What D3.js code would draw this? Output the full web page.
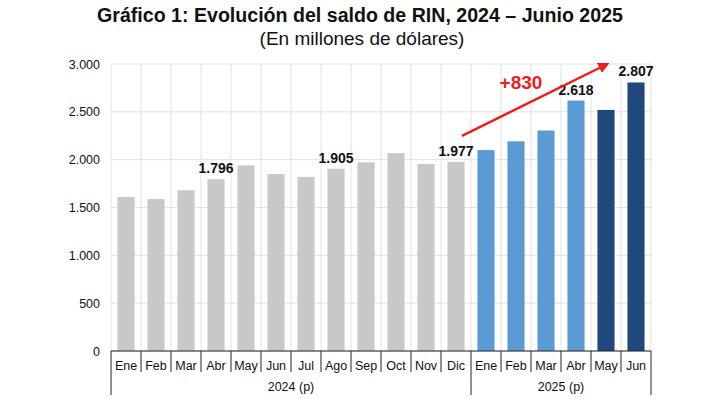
<!DOCTYPE html>
<html>
<head>
<meta charset="utf-8">
<script src="https://cdn.jsdelivr.net/npm/d3@7"></script>
<style>
  body { margin: 0; background: #fff; }
  text { font-family: "Liberation Sans", Arial, sans-serif; }
</style>
</head>
<body>
<div id="chart"></div>
<script>
// data
const months = ['Ene', 'Feb', 'Mar', 'Abr', 'May', 'Jun', 'Jul', 'Ago', 'Sep', 'Oct', 'Nov', 'Dic',
  'Ene', 'Feb', 'Mar', 'Abr', 'May', 'Jun'];
const years = ['2024 (p)', '2025 (p)'];
const yearOf = [0, 0, 0, 0, 0, 0, 0, 0, 0, 0, 0, 0, 1, 1, 1, 1, 1, 1];
const values = [1610, 1588, 1680, 1796, 1940, 1850, 1820, 1905, 1972, 2068, 1955, 1977,
  2100, 2192, 2305, 2618, 2520, 2807];
const shownLabels = [3, 7, 11, 15, 17];
const yTicks = [0, 500, 1000, 1500, 2000, 2500, 3000];
const arrowFrom = 11; // Dic 2024
const arrowTo = 17;   // Jun 2025
const arrowText = '+830';

const outerWidth = 720;
const outerHeight = 399;
const margin = { top: 64, right: 69, bottom: 48, left: 111 };
const width = outerWidth - margin.left - margin.right;
const height = outerHeight - margin.top - margin.bottom;

const svg = d3.select('#chart')
  .append('svg')
  .attr('width', outerWidth)
  .attr('height', outerHeight);

// titles
svg.append('text')
  .attr('x', 360).attr('y', 22)
  .attr('text-anchor', 'middle')
  .attr('font-size', 19.6).attr('font-weight', 'bold').attr('fill', '#111')
  .text('Gráfico 1: Evolución del saldo de RIN, 2024 – Junio 2025');
svg.append('text')
  .attr('x', 362).attr('y', 45)
  .attr('text-anchor', 'middle')
  .attr('font-size', 19).attr('fill', '#111')
  .text('(En millones de dólares)');

const g = svg.append('g').attr('transform', `translate(${margin.left},${margin.top})`);

const idx = d3.range(months.length);
const x = d3.scaleBand().domain(idx).range([0, width]).paddingInner(0.43).paddingOuter(0.215);
const step = width / months.length;
const y = d3.scaleLinear().domain([0, 3000]).range([height, 0]);

const colorOf = i => (i < 12 ? '#c8c8c8' : i < 16 ? '#5b9bd5' : '#1f497d');

// gridlines
g.append('g')
  .selectAll('line.h')
  .data(yTicks)
  .join('line')
  .attr('x1', 0).attr('x2', width)
  .attr('y1', d => y(d)).attr('y2', d => y(d))
  .attr('stroke', '#e2e2e2').attr('stroke-width', 1);
g.append('g')
  .selectAll('line.v')
  .data(d3.range(months.length + 1))
  .join('line')
  .attr('x1', d => d * step).attr('x2', d => d * step)
  .attr('y1', 0).attr('y2', height)
  .attr('stroke', '#e2e2e2').attr('stroke-width', 1);

// y axis labels
const yAxis = d3.axisLeft(y).tickValues(yTicks).tickSize(0).tickPadding(11)
  .tickFormat(d => d3.format(',')(d).replace(/,/g, '.'));
g.append('g').call(yAxis)
  .call(a => a.select('.domain').remove())
  .selectAll('text')
  .attr('font-size', 12.5).attr('fill', '#111')
  .style('font-family', '"Liberation Sans", Arial, sans-serif');

// bars
g.append('g')
  .selectAll('rect')
  .data(values)
  .join('rect')
  .attr('x', (d, i) => x(i))
  .attr('width', x.bandwidth())
  .attr('y', d => y(d))
  .attr('height', d => height - y(d))
  .attr('fill', (d, i) => colorOf(i));

// value labels
g.append('g')
  .selectAll('text')
  .data(shownLabels)
  .join('text')
  .attr('x', i => x(i) + x.bandwidth() / 2)
  .attr('y', i => y(values[i]) - 6)
  .attr('text-anchor', 'middle')
  .attr('font-size', 14).attr('font-weight', 'bold').attr('fill', '#111')
  .text(i => d3.format(',')(values[i]).replace(/,/g, '.'));

// category axis
const axis = g.append('g').attr('transform', `translate(0,${height})`);
axis.append('line')
  .attr('x1', 0).attr('x2', width)
  .attr('stroke', '#222').attr('stroke-width', 1);
axis.selectAll('line.tick')
  .data(d3.range(months.length + 1))
  .join('line')
  .attr('class', 'tick')
  .attr('x1', d => d * step).attr('x2', d => d * step)
  .attr('y1', 0)
  .attr('y2', d => (d === 0 || d === 12 || d === months.length) ? 44 : 21)
  .attr('stroke', '#222').attr('stroke-width', 1);
axis.selectAll('text.month')
  .data(months)
  .join('text')
  .attr('class', 'month')
  .attr('x', (d, i) => x(i) + x.bandwidth() / 2)
  .attr('y', 19)
  .attr('text-anchor', 'middle')
  .attr('font-size', 12.5).attr('fill', '#111')
  .text(d => d);
axis.selectAll('text.year')
  .data(years)
  .join('text')
  .attr('class', 'year')
  .attr('x', (d, k) => {
    const members = idx.filter(i => yearOf[i] === k);
    return (members[0] + members[members.length - 1] + 1) / 2 * step;
  })
  .attr('y', 40)
  .attr('text-anchor', 'middle')
  .attr('font-size', 12.5).attr('fill', '#111')
  .text(d => d);

// growth arrow
svg.append('defs').append('marker')
  .attr('id', 'head')
  .attr('viewBox', '0 0 10 10')
  .attr('refX', 8).attr('refY', 5)
  .attr('markerWidth', 4.5).attr('markerHeight', 4.5)
  .attr('orient', 'auto')
  .append('path')
  .attr('d', 'M0,0L10,5L0,10z')
  .attr('fill', '#ee1c1c');

const ax1 = x(arrowFrom) + x.bandwidth() / 2 + 6;
const ay1 = y(values[arrowFrom]) - 26;
const ax2 = x(arrowTo) - 20;
const ay2 = y(3000);
g.append('line')
  .attr('x1', ax1).attr('y1', ay1)
  .attr('x2', ax2).attr('y2', ay2)
  .attr('stroke', '#ee1c1c').attr('stroke-width', 2.5)
  .attr('marker-end', 'url(#head)');
g.append('text')
  .attr('x', (x(13) + x(14)) / 2 + x.bandwidth() / 2 - 10)
  .attr('y', y(2740))
  .attr('text-anchor', 'middle')
  .attr('font-size', 19).attr('font-weight', 'bold').attr('fill', '#ee1c1c')
  .text(arrowText);
</script>
</body>
</html>
